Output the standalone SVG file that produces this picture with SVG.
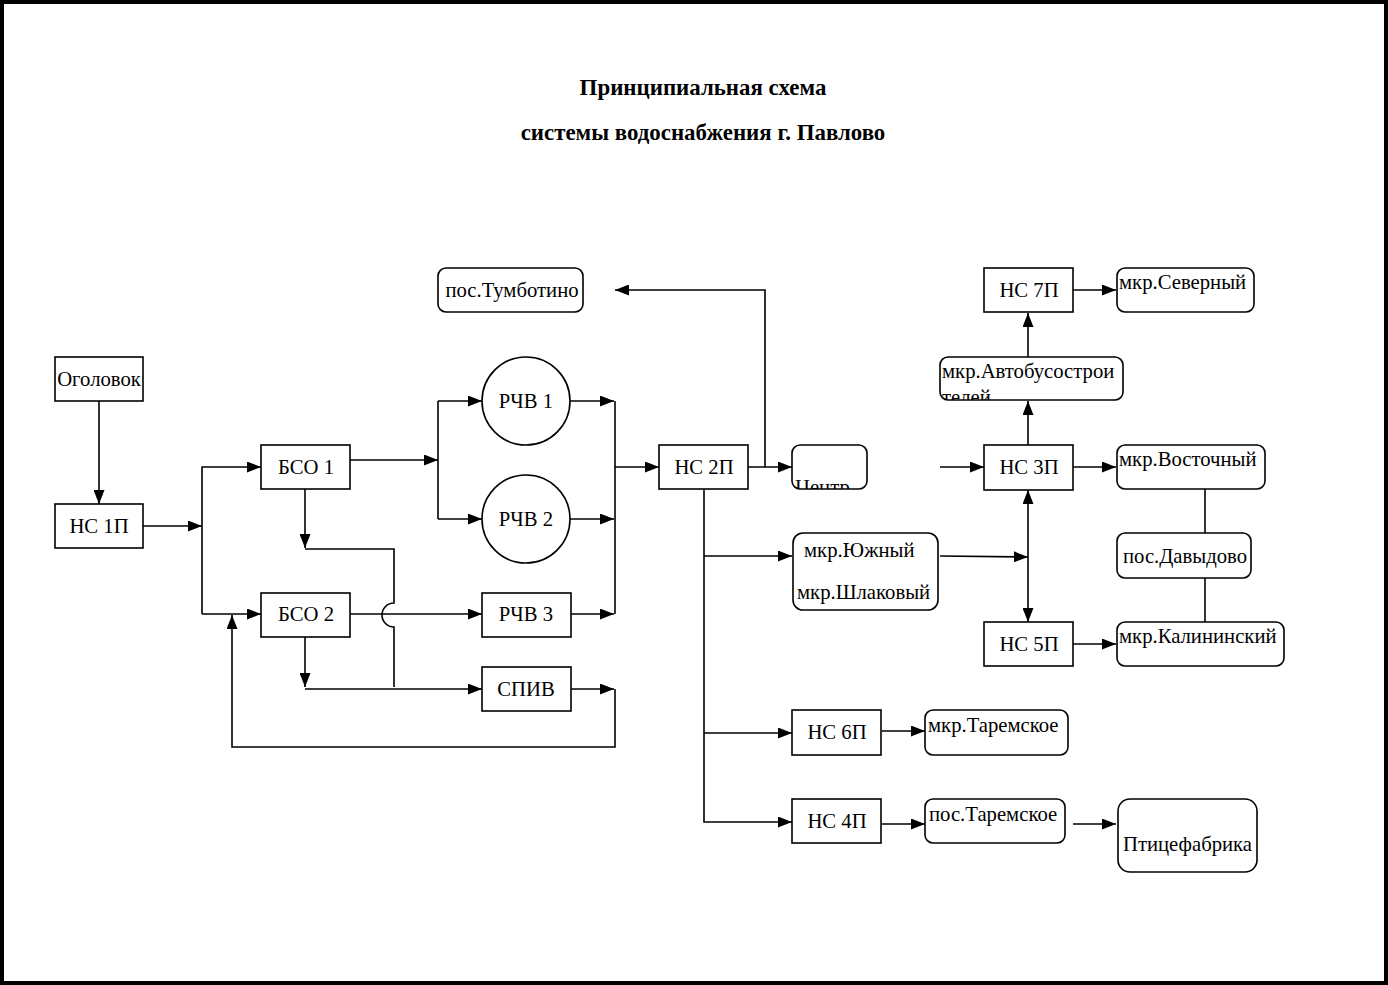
<svg xmlns="http://www.w3.org/2000/svg" width="1388" height="985" viewBox="0 0 1388 985">
<style>
.b{fill:#fff;stroke:#000;stroke-width:1.6}
.t{font-family:"Liberation Serif","Times New Roman",serif;font-size:20.7px;fill:#000}
.c{text-anchor:middle}
.h{font-family:"Liberation Serif","Times New Roman",serif;font-size:22.9px;font-weight:bold;text-anchor:middle;fill:#000}
.l{fill:none;stroke:#000;stroke-width:1.6}
.l.a{marker-end:url(#ar)}
</style>
<defs>
<marker id="ar" markerWidth="14" markerHeight="11" refX="14" refY="5.5" orient="auto" markerUnits="userSpaceOnUse"><path d="M0,0 L14,5.5 L0,11 z" fill="#000"/></marker>
<clipPath id="cc"><rect x="792" y="445" width="75" height="44"/></clipPath>
<clipPath id="ca"><rect x="940" y="357" width="183" height="43"/></clipPath>
</defs>
<rect x="2" y="2" width="1384" height="981" fill="#fff" stroke="#000" stroke-width="4"/>
<g id="title">
<text class="h" x="703" y="95">Принципиальная схема</text>
<text class="h" x="703" y="140">системы водоснабжения г. Павлово</text>
</g>
<g id="connectors">
<path class="l a" d="M99,401 V504"/>
<path class="l a" d="M143,526 H202"/>
<path class="l a" d="M202,614 V467 H261"/>
<path class="l a" d="M202,614 H261"/>
<path class="l a" d="M350,460 H438"/>
<path class="l" d="M438,401 V519"/>
<path class="l a" d="M438,401 H482"/>
<path class="l a" d="M438,519 H482"/>
<path class="l a" d="M570,401 H614"/>
<path class="l a" d="M570,519 H614"/>
<path class="l a" d="M571,614 H614"/>
<path class="l a" d="M571,689 H614"/>
<path class="l" d="M615,401 V614"/>
<path class="l a" d="M615,467 H659"/>
<path class="l a" d="M615,689 V747 H232 V615"/>
<path class="l a" d="M305,489 V548"/>
<path class="l" d="M305,549 H394 V603 A12,12 0 0 0 394,627 V687"/>
<path class="l a" d="M350,614 H482"/>
<path class="l a" d="M305,637 V687"/>
<path class="l a" d="M305,689 H482"/>
<path class="l a" d="M748,467 H792"/>
<path class="l a" d="M765,467 V290 H615"/>
<path class="l a" d="M704,490 V822 H792"/>
<path class="l a" d="M704,556 H792"/>
<path class="l a" d="M704,733 H792"/>
<path class="l a" d="M882,731 H925"/>
<path class="l a" d="M882,824 H925"/>
<path class="l a" d="M1073,824 H1116"/>
<path class="l a" d="M940,556 L1028,557"/>
<path class="l a" d="M1028,557 V490"/>
<path class="l a" d="M1028,557 V622"/>
<path class="l a" d="M940,467 H984"/>
<path class="l a" d="M1073,467 H1116"/>
<path class="l a" d="M1028,445 V401"/>
<path class="l a" d="M1028,357 V313"/>
<path class="l a" d="M1073,290 H1116"/>
<path class="l a" d="M1073,644 H1116"/>
<path class="l" d="M1205,489 V533"/>
<path class="l" d="M1205,578 V622"/>
</g>
<g id="ogolovok"><rect class="b" x="55" y="357" width="88" height="44"/><text class="t c" x="99" y="386">Оголовок</text></g>
<g id="ns1p"><rect class="b" x="55" y="504" width="88" height="44"/><text class="t c" x="99" y="533">НС 1П</text></g>
<g id="bso1"><rect class="b" x="261" y="445" width="89" height="44"/><text class="t c" x="306" y="474">БСО 1</text></g>
<g id="bso2"><rect class="b" x="261" y="593" width="89" height="44"/><text class="t c" x="306" y="621">БСО 2</text></g>
<g id="rchv1"><circle class="b" cx="526" cy="401" r="44"/><text class="t c" x="526" y="408">РЧВ 1</text></g>
<g id="rchv2"><circle class="b" cx="526" cy="519" r="44"/><text class="t c" x="526" y="526">РЧВ 2</text></g>
<g id="rchv3"><rect class="b" x="482" y="593" width="89" height="44"/><text class="t c" x="526" y="621">РЧВ 3</text></g>
<g id="spiv"><rect class="b" x="482" y="667" width="89" height="44"/><text class="t c" x="526" y="696">СПИВ</text></g>
<g id="tumbotino"><rect class="b" x="438" y="268" width="145" height="44" rx="8"/><text class="t c" x="512" y="297">пос.Тумботино</text></g>
<g id="ns2p"><rect class="b" x="659" y="445" width="89" height="44"/><text class="t c" x="704" y="474">НС 2П</text></g>
<g id="centr"><rect class="b" x="792" y="445" width="75" height="44" rx="8"/><text class="t" x="795" y="494" clip-path="url(#cc)">Центр</text></g>
<g id="yuzhny"><rect class="b" x="793" y="533" width="145" height="77" rx="10"/><text class="t" x="804" y="557">мкр.Южный</text><text class="t" x="797" y="599">мкр.Шлаковый</text></g>
<g id="ns6p"><rect class="b" x="792" y="710" width="89" height="45"/><text class="t c" x="837" y="739">НС 6П</text></g>
<g id="ns4p"><rect class="b" x="792" y="799" width="89" height="44"/><text class="t c" x="837" y="828">НС 4П</text></g>
<g id="mtaremskoe"><rect class="b" x="925" y="710" width="143" height="45" rx="8"/><text class="t" x="928" y="732">мкр.Таремское</text></g>
<g id="ptaremskoe"><rect class="b" x="925" y="799" width="140" height="44" rx="8"/><text class="t" x="929" y="821">пос.Таремское</text></g>
<g id="ptitsefabrika"><rect class="b" x="1118" y="799" width="139" height="73" rx="12"/><text class="t" x="1123" y="851">Птицефабрика</text></g>
<g id="ns7p"><rect class="b" x="984" y="268" width="89" height="44"/><text class="t c" x="1029" y="297">НС 7П</text></g>
<g id="severny"><rect class="b" x="1117" y="268" width="137" height="44" rx="8"/><text class="t" x="1119" y="289">мкр.Северный</text></g>
<g id="avtobus"><rect class="b" x="940" y="357" width="183" height="43" rx="8"/><g clip-path="url(#ca)"><text class="t" x="942" y="378">мкр.Автобусострои</text><text class="t" x="942" y="404">телей</text></g></g>
<g id="ns3p"><rect class="b" x="984" y="445" width="89" height="45"/><text class="t c" x="1029" y="474">НС 3П</text></g>
<g id="vostochny"><rect class="b" x="1117" y="445" width="148" height="44" rx="8"/><text class="t" x="1119" y="466">мкр.Восточный</text></g>
<g id="davydovo"><rect class="b" x="1117" y="533" width="134" height="45" rx="8"/><text class="t c" x="1185" y="563">пос.Давыдово</text></g>
<g id="ns5p"><rect class="b" x="984" y="622" width="89" height="44"/><text class="t c" x="1029" y="651">НС 5П</text></g>
<g id="kalininsky"><rect class="b" x="1117" y="622" width="167" height="44" rx="8"/><text class="t" x="1119" y="643">мкр.Калининский</text></g>
</svg>
